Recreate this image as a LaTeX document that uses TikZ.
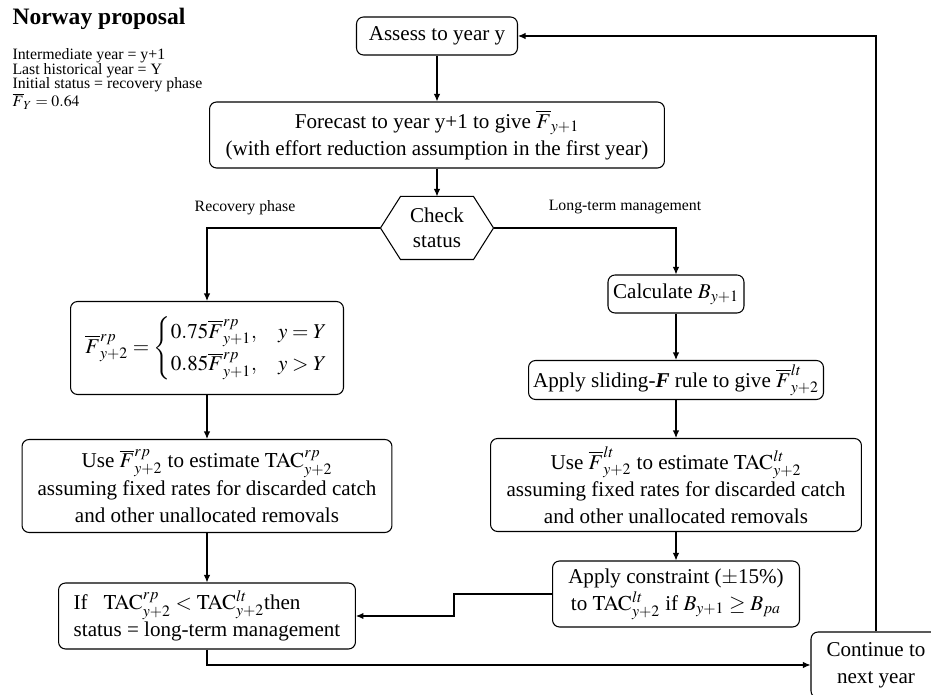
\documentclass[tikz,border=0pt]{standalone}
\usepackage{amsmath}
\usepackage{mathptmx}
\usepackage[no-math]{fontspec}
\setmainfont{Liberation Serif}
\usetikzlibrary{arrows.meta}

\begin{document}
\begin{tikzpicture}[x=0.02cm, y=-0.02cm, line width=0.6pt,
  box/.style={draw, rounded corners=4pt, align=center, inner sep=2pt, font=\fontsize{12}{15.5}\selectfont},
  arr/.style={-{Latex[length=1.5mm,width=1.3mm]}},
  lbl/.style={font=\fontsize{9}{10}\selectfont},
  note/.style={anchor=base west, inner sep=0, font=\fontsize{9}{10}\selectfont}]
\useasboundingbox (0,0) rectangle (931,695);
\clip (0,0) rectangle (931,695);
% title and notes
\node[anchor=base west, inner sep=0, font=\fontsize{13.4}{15}\selectfont\bfseries] (title) at (12,25) {Norway proposal};
\node[note] (note1) at (12,60) {Intermediate year = y+1};
\node[note] (note2) at (12,75) {Last historical year = Y};
\node[note] (note3) at (12,89) {Initial status = recovery phase};
\node[note] (note4) at (12,107) {$\overline{F}_{Y}=0.64$};
% main column
\node[box, minimum width=3.22cm, minimum height=0.76cm] (assess) at (437,36) {Assess to year y};
\node[box, minimum width=9.1cm, minimum height=1.32cm] (fcast) at (437,135)
  {Forecast to year y+1 to give $\overline{F}_{y+1}$\\(with effort reduction assumption in the first year)};
\node[align=center, font=\fontsize{12}{14}\selectfont, minimum width=2.24cm, minimum height=1.24cm] (check) at (437,228) {Check\\status};
\draw (check.west) -- ([xshift=0.4cm]check.north west) -- ([xshift=-0.4cm]check.north east) -- (check.east)
  -- ([xshift=-0.4cm]check.south east) -- ([xshift=0.4cm]check.south west) -- cycle;
\node[lbl] (rplbl) at (245,208) {Recovery phase};
\node[lbl] (ltlbl) at (625,207) {Long-term management};
% recovery phase
\node[box, minimum width=5.46cm, minimum height=1.86cm] (rp) at (207,348)
  {$\overline{F}^{rp}_{y+2}=\begin{cases}0.75\overline{F}^{rp}_{y+1}, & y=Y\\ 0.85\overline{F}^{rp}_{y+1}, & y>Y\end{cases}$};
\node[box, minimum width=7.4cm, minimum height=1.86cm] (userp) at (207,486)
  {Use $\overline{F}^{rp}_{y+2}$ to estimate $\mathrm{TAC}^{rp}_{y+2}$\\assuming fixed rates for discarded catch\\and other unallocated removals};
\node[box, align=left, minimum width=5.94cm, minimum height=1.32cm] (ifbox) at (207,616)
  {If~~~$\mathrm{TAC}^{rp}_{y+2}<\mathrm{TAC}^{lt}_{y+2}$then\\status = long-term management};
% long-term management
\node[box, minimum width=2.72cm, minimum height=0.76cm] (calc) at (676,294) {Calculate $B_{y+1}$};
\node[box, minimum width=5.9cm, minimum height=0.78cm] (slide) at (676,380)
  {Apply sliding-\textbf{\textit{F}} rule to give $\overline{F}^{lt}_{y+2}$};
\node[box, minimum width=7.42cm, minimum height=1.86cm] (uselt) at (676,485)
  {Use $\overline{F}^{lt}_{y+2}$ to estimate $\mathrm{TAC}^{lt}_{y+2}$\\assuming fixed rates for discarded catch\\and other unallocated removals};
\node[box, minimum width=4.94cm, minimum height=1.32cm] (cons) at (676,594)
  {Apply constraint ($\pm$15\%)\\to $\mathrm{TAC}^{lt}_{y+2}$ if $B_{y+1}\ge B_{pa}$};
\node[box, minimum width=2.6cm, minimum height=1.32cm] (cont) at (876,665) {Continue to\\next year};
% connectors
\draw[arr] (assess) -- (fcast);
\draw[arr] (fcast) -- (check);
\draw[arr] (check.west) -| (rp.north);
\draw[arr] (check.east) -| (calc.north);
\draw[arr] (rp) -- (userp);
\draw[arr] (userp) -- (ifbox);
\draw[arr] (calc) -- (slide);
\draw[arr] (slide) -- (uselt);
\draw[arr] (uselt) -- (cons);
\draw[arr] (cons.west) -- ++(-98,0) |- (ifbox.east);
\draw[arr] (ifbox.south) |- (cont.west);
\draw[arr] (cont.north) |- (assess.east);
\end{tikzpicture}
\end{document}
